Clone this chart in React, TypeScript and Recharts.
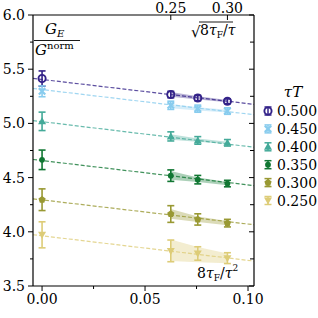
import { Area, ComposedChart, ErrorBar, Line, Scatter, XAxis, YAxis } from 'recharts'

// lattice flow times, 8tauF/tau^2
const xPoints = [0, 0.0625, 0.0756, 0.09]
const bandX = [0.0625, 0.0756, 0.09]
const fitX = [-0.0044, 0.1029]

const tauTLabels = ['0.500', '0.450', '0.400', '0.350', '0.300', '0.250']
const colors = ['#332288', '#88CCEE', '#44AA99', '#117733', '#999933', '#DDCC77']
const markers = ['circle', 'x', 'triUp', 'dot', 'pent', 'triDown']

const g500 = [5.414, 5.266, 5.234, 5.204]
const e500 = [0.07, 0.03, 0.025, 0.022]
const g450 = [5.296, 5.167, 5.136, 5.114]
const e450 = [0.05, 0.038, 0.033, 0.03]
const g400 = [5.019, 4.88, 4.843, 4.821]
const e400 = [0.085, 0.042, 0.035, 0.03]
const g350 = [4.664, 4.518, 4.481, 4.445]
const e350 = [0.09, 0.053, 0.039, 0.03]
const g300 = [4.296, 4.164, 4.114, 4.08]
const e300 = [0.1, 0.077, 0.052, 0.035]
const g250 = [3.972, 3.824, 3.8, 3.757]
const e250 = [0.12, 0.1, 0.062, 0.05]

// continuum fits (value at left and right edge of the axis)
const fitLeft = [5.415, 5.322, 5.026, 4.667, 4.304, 3.973]
const fitRight = [5.176, 5.08, 4.78, 4.426, 4.065, 3.73]

// shaded fit bands over the fit range
const bandLow = [
  [5.245, 5.22, 5.195],
  [5.14, 5.12, 5.1],
  [4.85, 4.83, 4.81],
  [4.48, 4.46, 4.43],
  [4.12, 4.09, 4.06],
  [3.73, 3.72, 3.71],
]
const bandHigh = [
  [5.29, 5.25, 5.215],
  [5.18, 5.15, 5.125],
  [4.9, 4.86, 4.83],
  [4.56, 4.5, 4.46],
  [4.21, 4.14, 4.1],
  [3.93, 3.86, 3.8],
]

const yTicks = [3.5, 3.75, 4.0, 4.25, 4.5, 4.75, 5.0, 5.25, 5.5, 5.75, 6.0]
const xTicks = [0, 0.025, 0.05, 0.075, 0.1]
const topTicks = [0.0625, 0.09]
const topTickLabels = ['0.25', '0.30']

const values = [g500, g450, g400, g350, g300, g250]
const errors = [e500, e450, e400, e350, e300, e250]

const W = 318
const H = 318
const LEFT = 33
const RIGHT = 254
const TOP = 15
const BOTTOM = 286
const FONT = 'DejaVu Serif, serif'

function Marker({ kind, cx, cy, color }: { kind: string; cx: number; cy: number; color: string }) {
  switch (kind) {
    case 'circle':
      return <circle cx={cx} cy={cy} r={3.6} fill="none" stroke={color} strokeWidth={1.9} />
    case 'x':
      return (
        <path
          d={`M${cx - 3.2},${cy - 3.2}L${cx + 3.2},${cy + 3.2}M${cx - 3.2},${cy + 3.2}L${cx + 3.2},${cy - 3.2}`}
          stroke={color}
          strokeWidth={2.2}
        />
      )
    case 'triUp':
      return <polygon points={`${cx},${cy - 4} ${cx + 4},${cy + 3} ${cx - 4},${cy + 3}`} fill={color} />
    case 'dot':
      return <circle cx={cx} cy={cy} r={2.9} fill={color} />
    case 'pent': {
      const pts = [0, 1, 2, 3, 4]
        .map((k) => {
          const a = -Math.PI / 2 + (k * 2 * Math.PI) / 5
          return `${cx + 3.8 * Math.cos(a)},${cy + 3.8 * Math.sin(a)}`
        })
        .join(' ')
      return <polygon points={pts} fill={color} />
    }
    default:
      return <polygon points={`${cx},${cy + 4} ${cx + 4},${cy - 3} ${cx - 4},${cy - 3}`} fill={color} />
  }
}

function isMajor(v: number, step: number) {
  const r = v / step
  return Math.abs(r - Math.round(r)) < 1e-6
}

function LeftTick(props: { y?: number; payload?: { value: number } }) {
  const y = props.y ?? 0
  const v = props.payload?.value ?? 0
  const major = isMajor(v, 0.5)
  return (
    <g>
      <line x1={LEFT - (major ? 5 : 3)} x2={LEFT} y1={y} y2={y} stroke="#000" strokeWidth={1} />
      {major && (
        <text x={LEFT - 8} y={y} dy={5} textAnchor="end" fontFamily={FONT} fontSize={14} fill="#000">
          {v.toFixed(1)}
        </text>
      )}
    </g>
  )
}

function RightTick(props: { y?: number; payload?: { value: number } }) {
  const y = props.y ?? 0
  const v = props.payload?.value ?? 0
  const major = isMajor(v, 0.5)
  return <line x1={RIGHT - (major ? 5 : 4)} x2={RIGHT} y1={y} y2={y} stroke="#000" strokeWidth={1} />
}

function BottomTick(props: { x?: number; payload?: { value: number } }) {
  const x = props.x ?? 0
  const v = props.payload?.value ?? 0
  const major = isMajor(v, 0.05)
  return (
    <g>
      <line x1={x} x2={x} y1={BOTTOM} y2={BOTTOM + (major ? 5 : 3)} stroke="#000" strokeWidth={1} />
      {major && (
        <text x={x} y={BOTTOM + 18} textAnchor="middle" fontFamily={FONT} fontSize={14} fill="#000">
          {v.toFixed(2)}
        </text>
      )}
    </g>
  )
}

function TopTick(props: { x?: number; payload?: { value: number } }) {
  const x = props.x ?? 0
  const v = props.payload?.value ?? 0
  const i = topTicks.findIndex((t) => Math.abs(t - v) < 1e-9)
  return (
    <g>
      <line x1={x} x2={x} y1={TOP} y2={TOP + 5} stroke="#000" strokeWidth={1} />
      <text x={x} y={TOP - 2} textAnchor="middle" fontFamily={FONT} fontSize={14} fill="#000">
        {topTickLabels[i] ?? ''}
      </text>
    </g>
  )
}

function LegendMarker({ i, cx, cy }: { i: number; cx: number; cy: number }) {
  const c = colors[i]
  return (
    <g>
      <line x1={cx} x2={cx} y1={cy - 4} y2={cy + 4} stroke={c} strokeWidth={1.5} />
      <line x1={cx - 3.5} x2={cx + 3.5} y1={cy - 4} y2={cy - 4} stroke={c} strokeWidth={1.5} />
      <line x1={cx - 3.5} x2={cx + 3.5} y1={cy + 4} y2={cy + 4} stroke={c} strokeWidth={1.5} />
      <Marker kind={markers[i]} cx={cx} cy={cy} color={c} />
    </g>
  )
}

export default function App() {
  return (
    <div style={{ position: 'absolute', left: 0, top: 0, width: W, height: H, background: '#fff' }}>
      <ComposedChart width={W} height={H} margin={{ top: 0, right: 0, bottom: 0, left: 0 }}>
        <XAxis
          dataKey="x"
          type="number"
          domain={[fitX[0], fitX[1]]}
          allowDataOverflow
          ticks={xTicks}
          height={H - BOTTOM}
          axisLine={{ stroke: '#000', strokeWidth: 1.2 }}
          tickLine={false}
          tick={(p: any) => <BottomTick {...p} />}
          interval={0}
        />
        <XAxis
          xAxisId="top"
          dataKey="x"
          orientation="top"
          type="number"
          domain={[fitX[0], fitX[1]]}
          allowDataOverflow
          ticks={topTicks}
          height={TOP}
          axisLine={{ stroke: '#000', strokeWidth: 1.2 }}
          tickLine={false}
          tick={(p: any) => <TopTick {...p} />}
          interval={0}
        />
        <YAxis
          type="number"
          domain={[3.5, 6.0]}
          allowDataOverflow
          ticks={yTicks}
          width={LEFT}
          axisLine={{ stroke: '#000', strokeWidth: 1.2 }}
          tickLine={false}
          tick={(p: any) => <LeftTick {...p} />}
          interval={0}
        />
        <YAxis
          yAxisId="right"
          orientation="right"
          type="number"
          domain={[3.5, 6.0]}
          allowDataOverflow
          ticks={yTicks}
          width={W - RIGHT}
          axisLine={{ stroke: '#000', strokeWidth: 1.2 }}
          tickLine={false}
          tick={(p: any) => <RightTick {...p} />}
          interval={0}
        />
        {/* invisible series so the secondary axes get a scale */}
        <Line
          xAxisId="top"
          yAxisId="right"
          data={fitX.map((x, k) => ({ x, fit: k === 0 ? fitLeft[0] : fitRight[0] }))}
          dataKey="fit"
          stroke="none"
          dot={false}
          activeDot={false}
          isAnimationActive={false}
        />
        {colors.map((c, i) => (
          <Area
            key={`band${i}`}
            data={bandX.map((x, k) => ({ x, band: [bandLow[i][k], bandHigh[i][k]] }))}
            dataKey="band"
            type="linear"
            stroke="none"
            fill={c}
            fillOpacity={0.35}
            isAnimationActive={false}
          />
        ))}
        {colors.map((c, i) => (
          <Line
            key={`fit${i}`}
            data={fitX.map((x, k) => ({ x, fit: k === 0 ? fitLeft[i] : fitRight[i] }))}
            dataKey="fit"
            type="linear"
            stroke={c}
            strokeOpacity={0.8}
            strokeWidth={1.2}
            strokeDasharray="4 2"
            dot={false}
            activeDot={false}
            isAnimationActive={false}
          />
        ))}
        {colors.map((c, i) => (
          <Scatter
            key={`pts${i}`}
            data={xPoints.map((x, k) => ({ x, y: values[i][k], err: errors[i][k] }))}
            dataKey="y"
            isAnimationActive={false}
            shape={(p: any) => <Marker kind={markers[i]} cx={p.cx} cy={p.cy} color={c} />}
          >
            <ErrorBar dataKey="err" direction="y" width={3.5} stroke={c} strokeWidth={1.6} />
          </Scatter>
        ))}
      </ComposedChart>
      <svg
        width={W}
        height={H}
        style={{ position: 'absolute', left: 0, top: 0, pointerEvents: 'none' }}
      >
        {/* y label fraction */}
        <text x={45} y={34} fontFamily={FONT} fontStyle="italic" fontSize={15} fill="#000">
          G<tspan fontSize={10} dy={3}>E</tspan>
        </text>
        <line x1={34} x2={80} y1={40.5} y2={40.5} stroke="#000" strokeWidth={0.9} />
        <text x={35} y={55} fontFamily={FONT} fontStyle="italic" fontSize={15} fill="#000">
          G
          <tspan fontStyle="normal" fontSize={10} dy={-6}>
            norm
          </tspan>
        </text>
        {/* top axis label */}
        <text x={191} y={37} fontFamily={FONT} fontSize={15} fill="#000">
          √
        </text>
        <line x1={199} x2={233} y1={22} y2={22} stroke="#000" strokeWidth={0.9} />
        <text x={200} y={35} fontFamily={FONT} fontSize={14} fill="#000">
          8<tspan fontStyle="italic">τ</tspan>
          <tspan fontSize={9} dy={3}>F</tspan>
          <tspan dy={-3}>/</tspan>
          <tspan fontStyle="italic">τ</tspan>
        </text>
        {/* bottom axis label */}
        <text x={197} y={278} fontFamily={FONT} fontSize={14} fill="#000">
          8<tspan fontStyle="italic">τ</tspan>
          <tspan fontSize={9} dy={3}>F</tspan>
          <tspan dy={-3}>/</tspan>
          <tspan fontStyle="italic">τ</tspan>
          <tspan fontSize={9} dy={-7}>2</tspan>
        </text>
        {/* legend */}
        <text x={293} y={97} textAnchor="middle" fontFamily={FONT} fontStyle="italic" fontSize={15} fill="#000">
          τT
        </text>
        {tauTLabels.map((lab, i) => {
          const cy = 111 + i * 17.9
          return (
            <g key={lab}>
              <LegendMarker i={i} cx={268} cy={cy} />
              <text x={277} y={cy + 5} fontFamily={FONT} fontSize={14} fill="#000">
                {lab}
              </text>
            </g>
          )
        })}
      </svg>
    </div>
  )
}
